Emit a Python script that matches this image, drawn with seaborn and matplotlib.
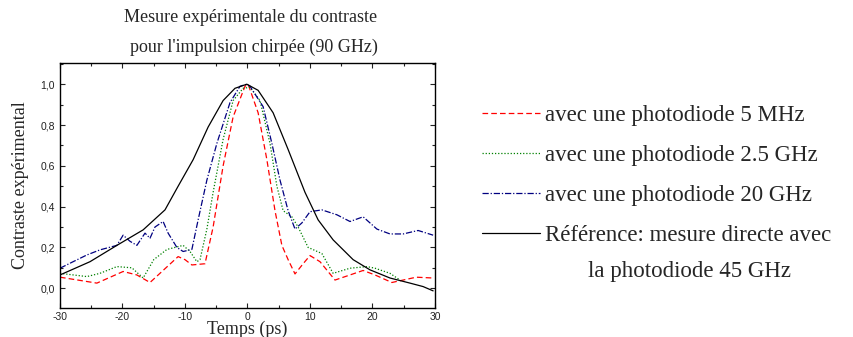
import numpy as np
import pandas as pd
import seaborn as sns
import matplotlib
matplotlib.use("Agg")
import matplotlib.pyplot as plt
from matplotlib.ticker import MultipleLocator, FuncFormatter
from matplotlib.lines import Line2D

# ---- data ----
red_x = [-30, -24.1, -19.9, -17.7, -15.6, -11.1, -10, -8.9, -6.8, -5.5, -3.9, -2.3, -0.4, 0.1,
         1.7, 3.1, 4.4, 5.5, 6.5, 7.6, 8.9, 10, 11.6, 14, 16.4, 18.5, 20.4, 23.1, 24.9, 27, 29.7]
red_y = [0.054, 0.025, 0.082, 0.065, 0.028, 0.155, 0.14, 0.114, 0.12, 0.30, 0.60, 0.84, 0.99, 1.0,
         0.86, 0.63, 0.38, 0.21, 0.14, 0.07, 0.12, 0.16, 0.13, 0.04, 0.065, 0.087, 0.065, 0.028, 0.04, 0.054, 0.05]

green_x = [-30, -25.7, -23.6, -20.9, -18.5, -16.7, -15, -12.9, -10.3, -9.2, -8.1, -7.6, -6.5, -5.5,
           -3.9, -2.3, -0.7, 0.4, 2, 3.6, 4.7, 5.7, 7.1, 8.1, 9.7, 11.9, 13.7, 16.4, 19.1, 20.4, 22.8, 24.4]
green_y = [0.073, 0.057, 0.073, 0.106, 0.10, 0.05, 0.14, 0.19, 0.21, 0.18, 0.13, 0.14, 0.29, 0.47,
           0.73, 0.92, 0.98, 0.985, 0.92, 0.71, 0.50, 0.38, 0.35, 0.30, 0.20, 0.17, 0.073, 0.098, 0.106, 0.098, 0.073, 0.04]

blue_x = [-30, -27.9, -25.7, -23.6, -20.9, -19.9, -18.8, -17.7, -16.4, -15.6, -14.8, -13.5, -12.7,
          -11.3, -10.3, -8.9, -7.9, -6.5, -4.9, -2.8, -1.2, -0.1, 0.4, 2.5, 3.9, 5.2, 6.5, 7.6, 8.7,
          10, 11.9, 14.3, 16.4, 18.5, 20.7, 22.8, 24.9, 27.3, 29.7]
blue_y = [0.098, 0.13, 0.163, 0.188, 0.21, 0.26, 0.23, 0.21, 0.27, 0.245, 0.30, 0.327, 0.27,
          0.20, 0.18, 0.19, 0.335, 0.53, 0.71, 0.91, 0.99, 1.0, 0.99, 0.89, 0.71, 0.53, 0.38, 0.29, 0.32,
          0.375, 0.384, 0.36, 0.327, 0.35, 0.29, 0.266, 0.266, 0.283, 0.26]

ref_x = [-30, -25.2, -20.9, -16.7, -13.2, -11.1, -8.7, -6.3, -3.9, -2, -0.1, 1.7, 4.1, 6.5, 9.2,
         11.3, 13.7, 16.9, 19.6, 22.8, 26, 28.1, 29.7]
ref_y = [0.065, 0.13, 0.21, 0.286, 0.384, 0.50, 0.63, 0.79, 0.92, 0.98, 1.0, 0.97, 0.86, 0.68, 0.47,
         0.335, 0.237, 0.14, 0.09, 0.05, 0.025, 0.008, -0.013]

labels = ["avec une photodiode 5 MHz",
          "avec une photodiode 2.5 GHz",
          "avec une photodiode 20 GHz",
          "Référence: mesure directe avec"]
label_extra = "la photodiode 45 GHz"
title_lines = ["Mesure expérimentale du contraste", "pour l'impulsion chirpée (90 GHz)"]
xlabel = "Temps (ps)"
ylabel = "Contraste expérimental"
xticks = [-30, -20, -10, 0, 10, 20, 30]
yticks = [0.0, 0.2, 0.4, 0.6, 0.8, 1.0]

# ---- style ----
sns.set_style("ticks")
plt.rcParams["font.family"] = ["Liberation Sans", "DejaVu Sans"]
serif = ["Liberation Serif", "DejaVu Serif"]

fig = plt.figure(figsize=(8.54, 3.37), dpi=100)
ax = fig.add_axes([60 / 854, 29 / 337, 375 / 854, 245 / 337])

series = [
    (red_x, red_y, "#ff0000", (4.5, 2.5)),
    (green_x, green_y, "#008000", (1, 1.5)),
    (blue_x, blue_y, "#000080", (5, 1.5, 1, 1.5)),
    (ref_x, ref_y, "#000000", None),
]
handles = []
for (xs, ys, col, dash), lab in zip(series, labels):
    df = pd.DataFrame({"x": xs, "y": ys})
    sns.lineplot(data=df, x="x", y="y", ax=ax, color=col, lw=0.9,
                 sort=False, estimator=None)
    ln = ax.lines[-1]
    if dash is not None:
        ln.set_dashes(dash)
    h = Line2D([], [], color=col, lw=0.9)
    if dash is not None:
        h.set_dashes(dash)
    handles.append(h)

ax.set_xlim(-30, 30)
ax.set_ylim(-0.097, 1.104)
ax.set_xticks(xticks)
ax.set_yticks(yticks)
ax.xaxis.set_minor_locator(MultipleLocator(5))
ax.yaxis.set_minor_locator(MultipleLocator(0.1))
ax.yaxis.set_major_formatter(FuncFormatter(lambda v, p: f"{v:.1f}".replace(".", ",")))
ax.xaxis.set_major_formatter(FuncFormatter(lambda v, p: f"{int(round(v))}"))
ax.tick_params(which="both", direction="in", top=True, right=True, labelsize=7.5,
               colors="#222222", width=0.8)
ax.tick_params(which="major", length=3.6)
ax.tick_params(which="minor", length=2.2)
ax.tick_params(axis="y", pad=3.5)
ax.tick_params(axis="x", pad=3.0)
for s in ax.spines.values():
    s.set_visible(True)
    s.set_linewidth(1.0)
    s.set_color("black")

ax.set_xlabel(xlabel, family=serif, fontsize=13)
ax.xaxis.set_label_coords(0.5, -0.052)
ax.set_ylabel(ylabel, family=serif, fontsize=13)
ax.yaxis.set_label_coords(-0.083, 0.5)

fig.text(251 / 854, 1 - 18 / 337, title_lines[0], family=serif, fontsize=13,
         ha="center", va="center")
fig.text(254 / 854, 1 - 47 / 337, title_lines[1], family=serif, fontsize=13,
         ha="center", va="center")

leg = fig.legend(handles, labels, loc="upper left",
                 bbox_to_anchor=(482 / 854, 1 - 105 / 337),
                 frameon=False, prop={"family": serif, "size": 16.5},
                 handlelength=2.53, handletextpad=0.22, labelspacing=0.83,
                 borderpad=0, borderaxespad=0)
fig.text(690 / 854, 1 - 272 / 337, label_extra, family=serif, fontsize=16.5,
         ha="center", va="center")

fig.savefig("out.png", dpi=100)
